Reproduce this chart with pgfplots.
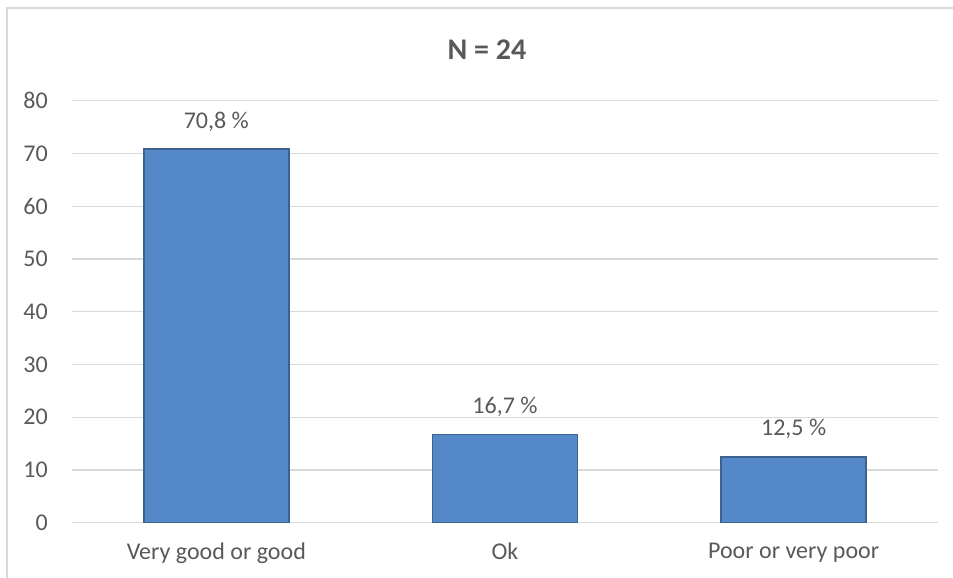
\documentclass[border=0pt]{standalone}
\usepackage{fontspec}
\setmainfont{Carlito}
\usepackage{pgfplots}
\pgfplotsset{compat=1.18}

\definecolor{txt}{RGB}{89,89,89}
\definecolor{gridc}{RGB}{217,217,217}
\definecolor{barfill}{RGB}{84,136,200}
\definecolor{baredge}{RGB}{60,98,146}

\begin{document}
\begin{tikzpicture}[x=1bp,y=1bp]
\useasboundingbox (0,0) rectangle (953,-578);
% chart frame
\draw[gridc, line width=1.5bp] (7,-578) -- (7,-8) -- (953,-8);
\node[txt, font=\fontsize{30bp}{36bp}\selectfont\bfseries] at (487,-50) {N = 24};

\begin{axis}[
    at={(72bp,-522.7bp)}, anchor=south west,
    scale only axis,
    width=866bp, height=422bp,
    xmin=-0.5, xmax=2.5,
    ymin=0, ymax=80,
    ytick={0,10,...,80},
    xtick=data,
    xticklabels={Very good or good, Ok, Poor or very poor},
    axis line style={draw=none},
    major tick length=0pt,
    ymajorgrids,
    grid style={gridc, line width=1.2bp},
    /pgf/number format/assume math mode=true,
    tick label style={txt, font=\fontsize{24bp}{28bp}\selectfont, inner sep=0pt},
    yticklabel style={xshift=-24bp},
    xticklabel style={yshift=-20bp},
    ybar,
    bar width=145bp,
    nodes near coords={\pgfmathprintnumber[fixed, fixed zerofill, precision=1, use comma]{\pgfplotspointmeta}~\%},
    every node near coord/.append style={txt, font=\fontsize{24bp}{28bp}\selectfont, inner sep=0pt, yshift=17bp},
]
\addplot[fill=barfill, draw=baredge, line width=1.5bp] coordinates {
    (0,70.8) (1,16.7) (2,12.5)
};
\end{axis}
\end{tikzpicture}
\end{document}
